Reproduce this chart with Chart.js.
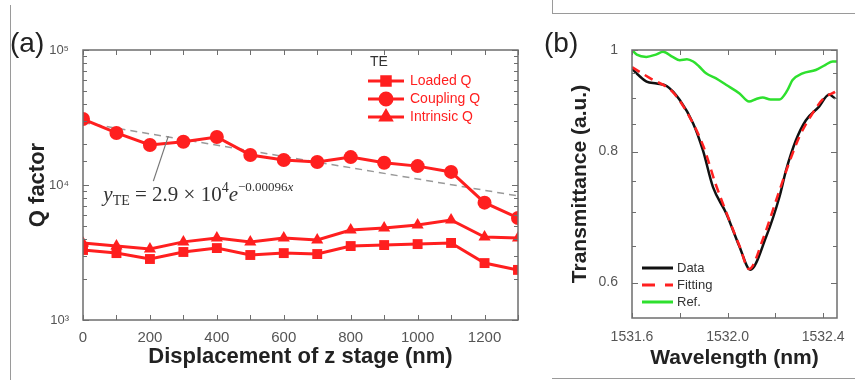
<!DOCTYPE html>
<html>
<head>
<meta charset="utf-8">
<script src="https://cdn.jsdelivr.net/npm/chart.js@4.4.1/dist/chart.umd.min.js"></script>
<style>
  html, body { margin: 0; padding: 0; background: #fff; }
  #page { position: relative; width: 855px; height: 380px; overflow: hidden; font-family: Arial, "Liberation Sans", sans-serif; }
  canvas { position: absolute; top: 0; }
  #qa { left: 0; }
  #qb { left: 540px; }
  .tag { position: absolute; font-size: 28px; color: #222; line-height: 1; }
  .rule { position: absolute; background: #9a9a9a; }
</style>
</head>
<body>
<div id="page">
  <div class="rule" style="left:10px;top:5px;width:1px;height:375px"></div>
  <div class="rule" style="left:552px;top:0;width:1px;height:13px"></div>
  <div class="rule" style="left:552px;top:13px;width:303px;height:1px"></div>
  <div class="rule" style="left:552px;top:378px;width:303px;height:1px"></div>
  <canvas id="qa" width="540" height="380"></canvas>
  <canvas id="qb" width="315" height="380"></canvas>
  <div class="tag" style="left:10px;top:29px">(a)</div>
  <div class="tag" style="left:544px;top:29px">(b)</div>
</div>
<script>
// ═══ (a) Q factor vs z-stage displacement ═══
const displacement = [0, 100, 200, 300, 400, 500, 600, 700, 800, 900, 1000, 1100, 1200, 1300];
const loadedQ    = [3300, 3130, 2830, 3190, 3410, 3030, 3130, 3080, 3530, 3590, 3650, 3720, 2640, 2350];
const couplingQ  = [30800, 24300, 19800, 20900, 22700, 16700, 15300, 14800, 16100, 14600, 13800, 12500, 7400, 5700];
const intrinsicQ = [3720, 3530, 3360, 3790, 4050, 3790, 4050, 3920, 4640, 4800, 5060, 5510, 4120, 4050];
const fitX = [0, 1300];
const fitQ = [29000, 8300];
const noteAt = [255, 23000]; // where the equation's leader line touches the fit

// ═══ (b) transmission spectrum ═══
const dataWl = [1531.6, 1531.63, 1531.661, 1531.703, 1531.745, 1531.8, 1531.856, 1531.897, 1531.939, 1531.995, 1532.05, 1532.095, 1532.161, 1532.217, 1532.245, 1532.286, 1532.328, 1532.383, 1532.425, 1532.45];
const dataT  = [0.960, 0.945, 0.933, 0.929, 0.924, 0.896, 0.851, 0.802, 0.740, 0.698, 0.649, 0.617, 0.663, 0.724, 0.768, 0.820, 0.857, 0.883, 0.907, 0.899];
const fitWl = [1531.6, 1531.675, 1531.77, 1531.84, 1531.9, 1531.95, 1532.0, 1532.05, 1532.09, 1532.15, 1532.2, 1532.25, 1532.3, 1532.35, 1532.4, 1532.45];
const fitT  = [0.963, 0.940, 0.912, 0.864, 0.808, 0.745, 0.695, 0.650, 0.618, 0.662, 0.715, 0.772, 0.826, 0.866, 0.898, 0.912];
const refWl = [1531.6, 1531.62, 1531.66, 1531.7, 1531.73, 1531.77, 1531.8, 1531.83, 1531.856, 1531.88, 1531.91, 1531.95, 1531.995, 1532.05, 1532.09, 1532.12, 1532.147, 1532.18, 1532.217, 1532.25, 1532.272, 1532.314, 1532.369, 1532.41, 1532.44, 1532.458];
const refT  = [1.0, 0.99, 0.985, 0.99, 0.996, 0.985, 0.978, 0.980, 0.975, 0.965, 0.950, 0.940, 0.926, 0.909, 0.893, 0.898, 0.901, 0.897, 0.897, 0.915, 0.936, 0.950, 0.957, 0.968, 0.975, 0.975];
const wlTicks = [1531.6, 1531.8, 1532.0, 1532.2, 1532.4];
const wlLabels = [1531.6, 1532.0, 1532.4];
const tTicks = [0.6, 0.65, 0.7, 0.75, 0.8, 0.85, 0.9, 0.95, 1.0];
const tLabels = [0.6, 0.8, 1.0];

const RED = "#ff1f1f";
const AXIS = "#6e6e6e";
const TICK_TXT = "#555";
const SANS = 'Arial, "Liberation Sans", sans-serif';
Chart.defaults.font.family = SANS;

const pts = (xs, ys) => xs.map((x, i) => ({ x, y: ys[i] }));
const near = (list, v) => list.some((w) => Math.abs(w - v) < 1e-6);
const SUP = { 3: "\u00b3", 4: "\u2074", 5: "\u2075" };

// box frame + inward tick marks on all four sides
const boxTicks = {
  id: "boxTicks",
  afterDraw(chart) {
    const { ctx, chartArea: a } = chart;
    const { x, y } = chart.scales;
    ctx.save();
    ctx.strokeStyle = AXIS;
    ctx.lineWidth = 1;
    ctx.beginPath();
    x.ticks.forEach((t, i) => {
      const px = Math.round(x.getPixelForTick(i)) + 0.5;
      ctx.moveTo(px, a.bottom); ctx.lineTo(px, a.bottom - 5);
      ctx.moveTo(px, a.top); ctx.lineTo(px, a.top + 5);
    });
    y.ticks.forEach((t, i) => {
      const py = Math.round(y.getPixelForTick(i)) + 0.5;
      const len = t.label ? 6 : 4;
      ctx.moveTo(a.left, py); ctx.lineTo(a.left + len, py);
      ctx.moveTo(a.right, py); ctx.lineTo(a.right - len, py);
    });
    ctx.stroke();
    ctx.lineWidth = 1.5;
    ctx.strokeRect(a.left, a.top, a.right - a.left, a.bottom - a.top);
    ctx.restore();
  },
};

// exponential fit equation with leader line
const fitNote = {
  id: "fitNote",
  afterDatasetsDraw(chart) {
    const { ctx } = chart;
    const { x, y } = chart.scales;
    const tx = x.getPixelForValue(noteAt[0]);
    const ty = y.getPixelForValue(noteAt[1]);
    ctx.save();
    ctx.strokeStyle = "#777";
    ctx.lineWidth = 1.2;
    ctx.beginPath();
    ctx.moveTo(tx, ty);
    ctx.lineTo(tx - 15, ty + 45);
    ctx.stroke();

    let cx = tx - 65;
    const base = ty + 65;
    ctx.fillStyle = "#333";
    ctx.textBaseline = "alphabetic";
    const put = (txt, font, dy) => {
      ctx.font = font;
      ctx.fillText(txt, cx, base + dy);
      cx += ctx.measureText(txt).width;
    };
    const SERIF = '"Liberation Serif", "Times New Roman", serif';
    put("y", "italic 21px " + SERIF, 0);
    put("TE", "14px " + SERIF, 4);
    put(" = 2.9 \u00d7 10", "21px " + SERIF, 0);
    put("4", "14px " + SERIF, -9);
    put("e", "italic 21px " + SERIF, 0);
    put("\u22120.00096", "13px " + SERIF, -10);
    put("x", "italic 13px " + SERIF, -10);
    ctx.restore();
  },
};

// legend for (a): line + marker samples under a "TE" title
const legendA = {
  id: "legendA",
  afterDraw(chart) {
    const { ctx, chartArea: a } = chart;
    const x0 = a.left + 285;
    ctx.save();
    ctx.textBaseline = "middle";
    ctx.font = "14px " + SANS;
    ctx.fillStyle = "#333";
    ctx.fillText("TE", x0 + 2, a.top + 12);
    chart.data.datasets.filter((d) => d.pointStyle).forEach((d, i) => {
      const yy = a.top + 31 + i * 18;
      ctx.strokeStyle = RED;
      ctx.fillStyle = RED;
      ctx.lineWidth = 3;
      ctx.beginPath();
      ctx.moveTo(x0, yy);
      ctx.lineTo(x0 + 36, yy);
      ctx.stroke();
      Chart.helpers.drawPoint(ctx, { pointStyle: d.pointStyle, radius: d.pointRadius - 1, rotation: 0, borderWidth: 1 }, x0 + 18, yy);
      ctx.fillStyle = RED;
      ctx.font = "14px " + SANS;
      ctx.fillText(d.label, x0 + 42, yy);
    });
    ctx.restore();
  },
};

// legend for (b)
const legendB = {
  id: "legendB",
  afterDraw(chart) {
    const { ctx, chartArea: a } = chart;
    const x0 = a.left + 10;
    ctx.save();
    ctx.textBaseline = "middle";
    ctx.font = "13px " + SANS;
    chart.data.datasets.forEach((d, i) => {
      const yy = a.top + 218 + i * 17;
      ctx.strokeStyle = d.borderColor;
      ctx.lineWidth = 3;
      ctx.setLineDash(d.borderDash && d.borderDash.length ? [13, 10] : []);
      ctx.beginPath();
      ctx.moveTo(x0, yy);
      ctx.lineTo(x0 + 31, yy);
      ctx.stroke();
      ctx.setLineDash([]);
      ctx.fillStyle = "#333";
      ctx.fillText(d.label, x0 + 35, yy);
    });
    ctx.restore();
  },
};

const qSeries = (label, values, style, radius) => ({
  label,
  data: pts(displacement, values),
  borderColor: RED,
  backgroundColor: RED,
  borderWidth: 3,
  pointStyle: style,
  pointRadius: radius,
  pointBorderWidth: 0,
  tension: 0,
  order: 0,
});

new Chart(document.getElementById("qa"), {
  type: "line",
  data: {
    datasets: [
      qSeries("Loaded Q", loadedQ, "rect", 7),
      qSeries("Coupling Q", couplingQ, "circle", 7),
      qSeries("Intrinsic Q", intrinsicQ, "triangle", 7),
      { label: "", data: pts(fitX, fitQ), borderColor: "#9a9a9a", borderDash: [7, 5], borderWidth: 1.5, pointRadius: 0, order: 5 },
    ],
  },
  options: {
    responsive: false,
    animation: false,
    layout: { padding: { left: 0, top: 50, right: 22, bottom: 0 } },
    plugins: { legend: { display: false }, tooltip: { enabled: false } },
    scales: {
      x: {
        type: "linear", min: 0, max: 1300,
        grid: { display: false }, border: { display: false },
        ticks: { stepSize: 100, autoSkip: false, maxRotation: 0, padding: 1, color: TICK_TXT, font: { size: 15 },
          callback: (v) => (v % 200 === 0 ? String(v) : "") },
        title: { display: true, text: "Displacement of z stage (nm)", color: "#222", font: { size: 22, weight: "bold" }, padding: { top: 0, bottom: 10 } },
        afterFit: (s) => { s.height = 60; s.paddingLeft = 0; s.paddingRight = 0; },
      },
      y: {
        type: "logarithmic", min: 1000, max: 100000,
        grid: { display: false }, border: { display: false },
        ticks: { autoSkip: false, padding: 6, color: TICK_TXT, font: { size: 13 },
          callback: (v) => {
            const e = Math.log10(v), r = Math.round(e);
            return Math.abs(e - r) < 1e-9 ? "10" + SUP[r] : "";
          } },
        title: { display: true, text: "Q factor", color: "#222", font: { size: 22, weight: "bold" }, padding: { top: 25, bottom: 0 } },
        afterFit: (s) => { s.width = 83; s.paddingTop = 0; s.paddingBottom = 0; },
      },
    },
  },
  plugins: [boxTicks, fitNote, legendA],
});

new Chart(document.getElementById("qb"), {
  type: "line",
  data: {
    datasets: [
      { label: "Data", data: pts(dataWl, dataT), borderColor: "#111", borderWidth: 2.5, pointRadius: 0, cubicInterpolationMode: "monotone", order: 1 },
      { label: "Fitting", data: pts(fitWl, fitT), borderColor: "#ff2020", borderWidth: 2.5, borderDash: [9, 6], pointRadius: 0, cubicInterpolationMode: "monotone", order: 0 },
      { label: "Ref.", data: pts(refWl, refT), borderColor: "#2ee02e", borderWidth: 2.5, pointRadius: 0, cubicInterpolationMode: "monotone", order: 2 },
    ],
  },
  options: {
    responsive: false,
    animation: false,
    layout: { padding: { left: 0, top: 50, right: 18, bottom: 0 } },
    plugins: { legend: { display: false }, tooltip: { enabled: false } },
    scales: {
      x: {
        type: "linear", min: 1531.6, max: 1532.458,
        grid: { display: false }, border: { display: false },
        afterBuildTicks: (s) => { s.ticks = wlTicks.map((value) => ({ value })); },
        ticks: { autoSkip: false, maxRotation: 0, padding: 3, color: TICK_TXT, font: { size: 14 },
          callback: (v) => (near(wlLabels, v) ? v.toFixed(1) : "") },
        title: { display: true, text: "Wavelength (nm)", color: "#222", font: { size: 21, weight: "bold" }, padding: { top: 0, bottom: 9 } },
        afterFit: (s) => { s.height = 62; s.paddingLeft = 0; s.paddingRight = 0; },
      },
      y: {
        type: "logarithmic", min: 0.555, max: 1,
        grid: { display: false }, border: { display: false },
        afterBuildTicks: (s) => { s.ticks = tTicks.map((value) => ({ value })); },
        ticks: { autoSkip: false, padding: 6, color: TICK_TXT, font: { size: 14 },
          callback: (v) => (near(tLabels, v) ? (v === 1 ? "1" : v.toFixed(1)) : "") },
        title: { display: true, text: "Transmittance (a.u.)", color: "#222", font: { size: 21, weight: "bold" }, padding: { top: 28, bottom: 0 } },
        afterFit: (s) => { s.width = 92; s.paddingTop = 0; s.paddingBottom = 0; },
      },
    },
  },
  plugins: [boxTicks, legendB],
});
</script>
</body>
</html>
